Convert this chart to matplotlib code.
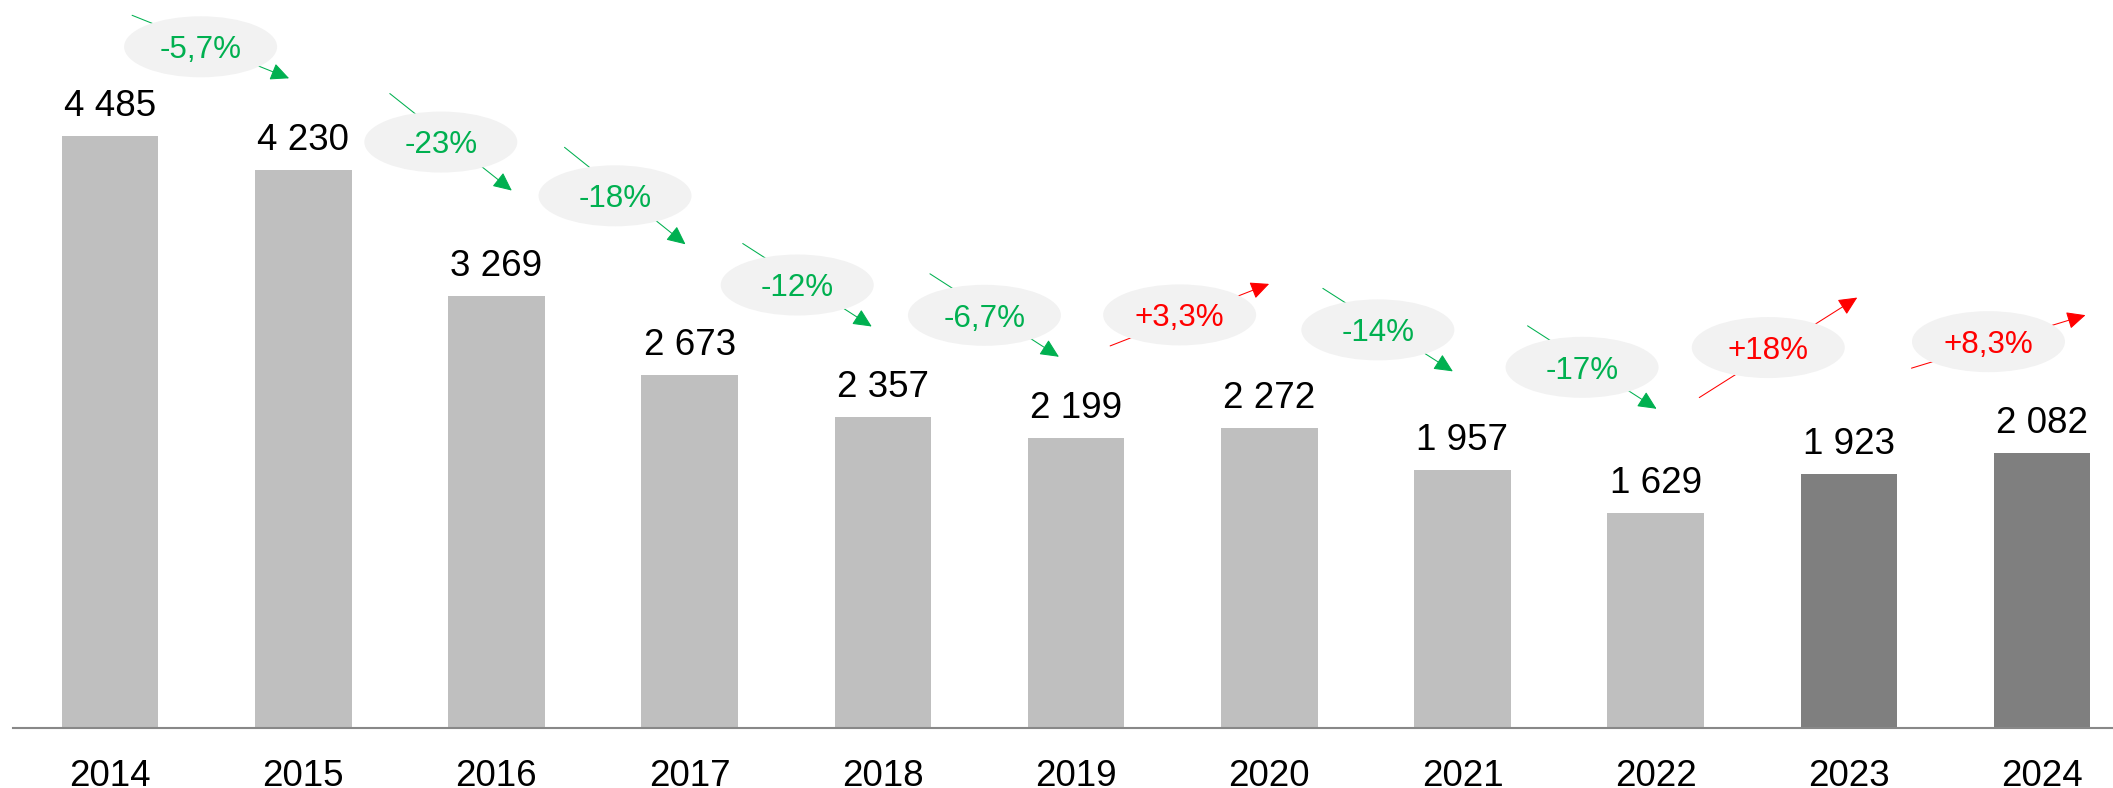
import matplotlib.pyplot as plt
from matplotlib.patches import Ellipse, FancyArrowPatch, ArrowStyle
from matplotlib.transforms import IdentityTransform

plt.rcParams['font.family'] = ['Liberation Sans', 'DejaVu Sans']

# data
years = ['2014', '2015', '2016', '2017', '2018', '2019',
         '2020', '2021', '2022', '2023', '2024']
values = [4485, 4230, 3269, 2673, 2357, 2199, 2272, 1957, 1629, 1923, 2082]
changes = ['-5,7%', '-23%', '-18%', '-12%', '-6,7%',
           '+3,3%', '-14%', '-17%', '+18%', '+8,3%']
dark_years = ['2023', '2024']

# layout of the change bubbles, in pixels relative to the midpoint
# between the two bar tops (y up) and the arrow vector through them
bubble_offsets = [(-6, 106), (41, 91), (22, 140), (11, 111), (5, 112),
                  (7, 118), (12, 119), (23, 124), (16, 146), (43, 122)]
arrow_vectors = [(157, -63), (122, -97), (121, -97), (129, -83), (129, -83),
                 (159, 62), (130, -83), (129, -83), (158, 100), (174, 53)]

light_grey = '#BFBFBF'
dark_grey = '#7F7F7F'
green = '#00B050'
red = '#FF0000'
bubble_color = '#F2F2F2'

fig = plt.figure(figsize=(21.13, 7.88), dpi=100)
ax = fig.add_axes([13 / 2113, 60 / 788, 2100 / 2113, 728 / 788])

x = list(range(len(years)))
colors = [dark_grey if y in dark_years else light_grey for y in years]
ax.bar(x, values, width=0.5, color=colors, zorder=2)

ax.set_xlim(-0.502, 10.367)
ax.set_ylim(0, 5515)
for side in ['left', 'right', 'top']:
    ax.spines[side].set_visible(False)
ax.spines['bottom'].set_color('#888888')
ax.spines['bottom'].set_linewidth(1.5)
ax.set_xticks([])
ax.set_yticks([])

# value labels and years
for i, v in enumerate(values):
    ax.annotate(f'{v:,}'.replace(',', ' '), xy=(i, v), xytext=(0, 20),
                textcoords='offset pixels', ha='center', va='baseline',
                fontsize=26.5, color='black', annotation_clip=False)
    ax.annotate(years[i], xy=(i, 0), xytext=(0, -58),
                textcoords='offset pixels', ha='center', va='baseline',
                fontsize=26.5, color='black', annotation_clip=False)

# change bubbles with arrows
for i, label in enumerate(changes):
    mid_y = (values[i] + values[i + 1]) / 2
    ax_px, ay_px = ax.transData.transform((i + 0.5, mid_y))
    cx = ax_px + bubble_offsets[i][0]
    cy = ay_px + bubble_offsets[i][1]
    color = red if label.startswith('+') else green

    vx, vy = arrow_vectors[i]
    mx, my = cx + 10, cy
    arrow = FancyArrowPatch(
        (mx - vx / 2, my - vy / 2), (mx + vx / 2, my + vy / 2),
        arrowstyle=ArrowStyle('-|>', head_length=11.5, head_width=5.4),
        mutation_scale=1, shrinkA=0, shrinkB=0, color=color,
        linewidth=0.75, transform=IdentityTransform(), zorder=3)
    fig.add_artist(arrow)

    bubble = Ellipse((cx, cy), 153, 61, facecolor=bubble_color,
                     edgecolor='none', transform=IdentityTransform(),
                     zorder=4)
    fig.add_artist(bubble)

    fig.text(cx / 2113, (cy - 11.3) / 788, label, ha='center',
             va='baseline', fontsize=22.6, color=color, zorder=5)

fig.savefig('out.png', dpi=100)
